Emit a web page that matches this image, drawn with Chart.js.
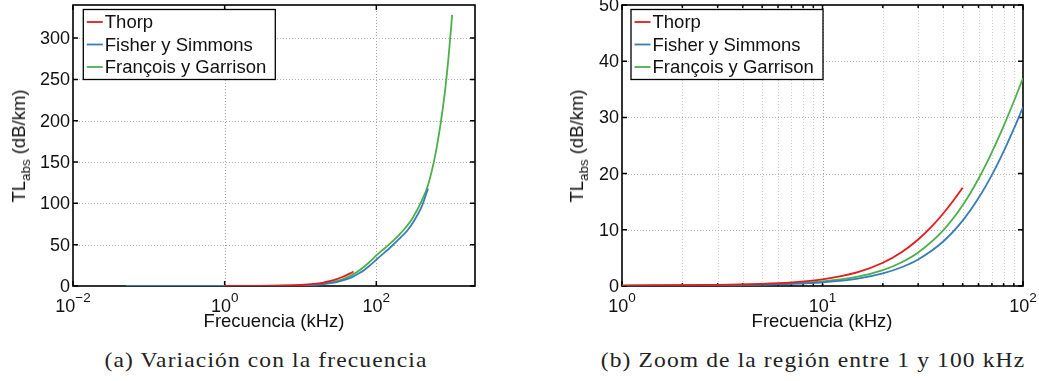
<!DOCTYPE html>
<html>
<head>
<meta charset="utf-8">
<script src="https://cdn.jsdelivr.net/npm/chart.js@4.4.1/dist/chart.umd.min.js"></script>
<style>
  body { margin: 0; background: #fff; }
  #wrap { position: relative; width: 1039px; height: 381px; overflow: hidden; font-family: "Liberation Sans", Arial, sans-serif; color: #111; }
  canvas { position: absolute; top: 0; }
  .xt { position: absolute; top: 321px; transform: translate(-50%, -50%); font-size: 18.5px; white-space: nowrap; }
  .yt { position: absolute; top: 146px; transform: translate(-50%, -50%) rotate(-90deg); font-size: 18.5px; white-space: nowrap; }
  .yt sub { font-size: 0.72em; vertical-align: -0.38em; line-height: 0; }
  .cap { position: absolute; top: 360px; transform: translate(-50%, -50%) scaleX(1.12); font-family: "Liberation Serif", serif; font-size: 21px; letter-spacing: 1px; white-space: nowrap; color: #222; }
</style>
</head>
<body>
<div id="wrap">
  <canvas id="chartA" width="519" height="340" style="left:0"></canvas>
  <canvas id="chartB" width="520" height="340" style="left:519px"></canvas>
  <div class="xt" style="left:274px">Frecuencia (kHz)</div>
  <div class="xt" style="left:822px">Frecuencia (kHz)</div>
  <div class="yt" style="left:19px">TL<sub>abs</sub> (dB/km)</div>
  <div class="yt" style="left:577px">TL<sub>abs</sub> (dB/km)</div>
  <div class="cap" style="left:266px">(a) Variación con la frecuencia</div>
  <div class="cap" style="left:813px">(b) Zoom de la región entre 1 y 100 kHz</div>
</div>
<script>
// data (kHz -> dB/km)
const thorpFreq = [1, 2, 3, 5, 7, 10, 15, 20, 25, 30, 35, 40, 45, 50];
const thorpAbs = [0.07, 0.14, 0.2, 0.38, 0.64, 1.19, 2.46, 4.13, 6.1, 8.28, 10.57, 12.9, 15.22, 17.47];

const fisherFreq = [0.05, 0.1, 0.2, 0.5, 1, 2, 3, 5, 7, 10, 15, 20, 25, 30, 40, 50, 60, 70, 80, 90, 100, 130, 150, 200, 250, 300, 400, 480];
const fisherAbs = [0.0003, 0.001, 0.004, 0.023, 0.06, 0.11, 0.15, 0.25, 0.38, 0.66, 1.32, 2.24, 3.38, 4.72, 7.92, 11.63, 15.64, 19.78, 23.91, 27.94, 31.8, 41, 46, 57, 66, 76, 97, 118];

const francoisFreq = [0.2, 0.5, 1, 2, 3, 5, 7, 10, 15, 20, 25, 30, 40, 50, 60, 70, 80, 90, 100, 130, 150, 200, 250, 300, 400, 480, 600, 700, 800, 900, 1000];
const francoisAbs = [0.003, 0.019, 0.056, 0.12, 0.18, 0.3, 0.47, 0.83, 1.68, 2.84, 4.28, 5.96, 9.9, 14.36, 19.08, 23.82, 28.44, 32.83, 36.96, 46, 51, 62, 72, 82, 104, 122, 159, 195, 234, 279, 328];

const seriesNames = ['Thorp', 'Fisher y Simmons', 'François y Garrison'];
const seriesColors = ['#e41a1c', '#377eb8', '#4daf4a'];

// axes
const leftXGrid = [0.01, 1, 100];
const leftXMajor = [0.01, 1, 100];
const leftXLabelVals = [0.01, 1, 100];
const leftXExps = ['−2', '0', '2'];
const leftYTicks = [0, 50, 100, 150, 200, 250, 300];

const rightXGrid = [1, 2, 3, 4, 5, 6, 7, 8, 9, 10, 20, 30, 40, 50, 60, 70, 80, 90, 100];
const rightXMajor = [1, 10, 100];
const rightXLabelVals = [1, 10, 100];
const rightXExps = ['0', '1', '2'];
const rightYTicks = [0, 10, 20, 30, 40, 50];

function pts(xs, ys) {
  return xs.map((x, i) => ({ x: x, y: ys[i] }));
}

function makeDatasets() {
  const all = [[thorpFreq, thorpAbs], [fisherFreq, fisherAbs], [francoisFreq, francoisAbs]];
  return all.map((s, i) => ({
    label: seriesNames[i],
    data: pts(s[0], s[1]),
    borderColor: seriesColors[i],
    borderWidth: 1.8,
    pointRadius: 0,
    fill: false,
    cubicInterpolationMode: 'monotone'
  }));
}

// box, grid, ticks, labels and legend drawn MATLAB-style
const frame = {
  id: 'frame',
  beforeDatasetsDraw(chart, args, o) {
    const ctx = chart.ctx, a = chart.chartArea;
    const xs = chart.scales.x, ys = chart.scales.y;
    ctx.save();
    ctx.lineWidth = 1;
    ctx.setLineDash([1, 2]);
    o.xGrid.forEach(v => {
      const px = Math.round(xs.getPixelForValue(v)) + 0.5;
      if (px <= a.left + 1 || px >= a.right - 1) return;
      ctx.strokeStyle = o.xMajor.includes(v) ? '#a0a0a0' : '#cfcfcf';
      ctx.beginPath(); ctx.moveTo(px, a.top); ctx.lineTo(px, a.bottom); ctx.stroke();
    });
    o.yTicks.forEach(v => {
      const py = Math.round(ys.getPixelForValue(v)) + 0.5;
      if (py <= a.top + 1 || py >= a.bottom - 1) return;
      ctx.strokeStyle = '#b0b0b0';
      ctx.beginPath(); ctx.moveTo(a.left, py); ctx.lineTo(a.right, py); ctx.stroke();
    });
    ctx.setLineDash([]);
    ctx.strokeStyle = '#000';
    ctx.lineWidth = 1.5;
    o.xGrid.forEach(v => {
      const px = xs.getPixelForValue(v);
      const len = o.xMajor.includes(v) ? 5 : 3;
      ctx.beginPath();
      ctx.moveTo(px, a.bottom); ctx.lineTo(px, a.bottom - len);
      ctx.moveTo(px, a.top); ctx.lineTo(px, a.top + len);
      ctx.stroke();
    });
    o.yTicks.forEach(v => {
      const py = ys.getPixelForValue(v);
      ctx.beginPath();
      ctx.moveTo(a.left, py); ctx.lineTo(a.left + 5, py);
      ctx.moveTo(a.right, py); ctx.lineTo(a.right - 5, py);
      ctx.stroke();
    });
    ctx.lineWidth = 1.6;
    ctx.strokeRect(a.left, a.top, a.right - a.left, a.bottom - a.top);
    ctx.restore();
  },
  afterDraw(chart, args, o) {
    const ctx = chart.ctx, a = chart.chartArea;
    const xs = chart.scales.x, ys = chart.scales.y;
    ctx.save();
    ctx.fillStyle = '#111';
    // y tick labels
    ctx.font = '18px "Liberation Sans", Arial, sans-serif';
    ctx.textAlign = 'right';
    ctx.textBaseline = 'middle';
    o.yTicks.forEach(v => ctx.fillText(String(v), a.left - 3, ys.getPixelForValue(v) + 1));
    // x tick labels 10^n
    ctx.textAlign = 'left';
    ctx.textBaseline = 'alphabetic';
    o.xLabelVals.forEach((v, i) => {
      const px = xs.getPixelForValue(v);
      ctx.font = '18px "Liberation Sans", Arial, sans-serif';
      const wb = ctx.measureText('10').width;
      ctx.font = '13.5px "Liberation Sans", Arial, sans-serif';
      const we = ctx.measureText(o.xExps[i]).width;
      const x0 = px - (wb + we) / 2;
      ctx.font = '18px "Liberation Sans", Arial, sans-serif';
      ctx.fillText('10', x0, a.bottom + 26);
      ctx.font = '13.5px "Liberation Sans", Arial, sans-serif';
      ctx.fillText(o.xExps[i], x0 + wb, a.bottom + 16);
    });
    // legend
    const lx = a.left + o.legendDx, ly = a.top + 4.5, lw = 192, lh = 70;
    ctx.fillStyle = '#fff';
    ctx.fillRect(lx, ly, lw, lh);
    ctx.strokeStyle = '#000';
    ctx.lineWidth = 1.3;
    ctx.strokeRect(lx, ly, lw, lh);
    ctx.font = '18.5px "Liberation Sans", Arial, sans-serif';
    ctx.textBaseline = 'middle';
    chart.data.datasets.forEach((ds, i) => {
      const yy = ly + 12.5 + i * 22.5;
      ctx.strokeStyle = ds.borderColor;
      ctx.lineWidth = 1.8;
      ctx.beginPath(); ctx.moveTo(lx + 3.5, yy); ctx.lineTo(lx + 19.5, yy); ctx.stroke();
      ctx.fillStyle = '#111';
      ctx.fillText(ds.label, lx + 21.5, yy + 1);
    });
    ctx.restore();
  }
};

function makeChart(id, xMin, xMax, yMax, pad, frameOpts) {
  return new Chart(document.getElementById(id), {
    type: 'line',
    data: { datasets: makeDatasets() },
    options: {
      responsive: false,
      animation: false,
      layout: { padding: pad },
      plugins: { legend: { display: false }, tooltip: { enabled: false }, frame: frameOpts },
      scales: {
        x: { type: 'logarithmic', min: xMin, max: xMax, display: false },
        y: { type: 'linear', min: 0, max: yMax, display: false }
      }
    },
    plugins: [frame]
  });
}

makeChart('chartA', 0.01, 2000, 340, { left: 73, right: 44, top: 5, bottom: 54 }, {
  xGrid: leftXGrid, xMajor: leftXMajor, xLabelVals: leftXLabelVals, xExps: leftXExps, yTicks: leftYTicks, legendDx: 10.3
});
makeChart('chartB', 1, 100, 50, { left: 103, right: 16, top: 5, bottom: 54 }, {
  xGrid: rightXGrid, xMajor: rightXMajor, xLabelVals: rightXLabelVals, xExps: rightXExps, yTicks: rightYTicks, legendDx: 9
});
</script>
</body>
</html>
